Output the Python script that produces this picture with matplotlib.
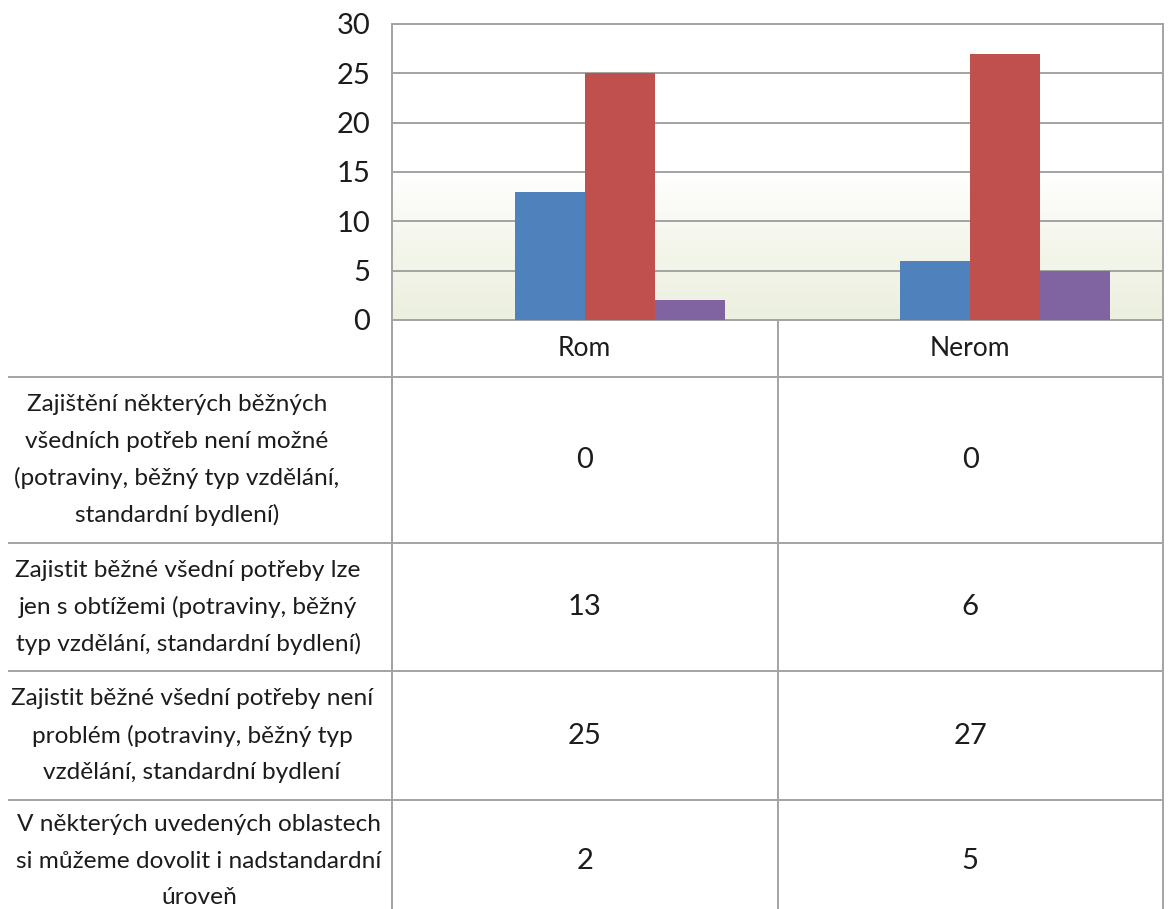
import numpy as np
import matplotlib
matplotlib.use("Agg")
import matplotlib.pyplot as plt
from matplotlib.colors import LinearSegmentedColormap

# ---- data ----
categories = ["Rom", "Nerom"]
series_labels = [
    "Zajištění některých běžných\nvšedních potřeb není možné\n(potraviny, běžný typ vzdělání,\nstandardní bydlení)",
    "Zajistit běžné všední potřeby lze\njen s obtížemi (potraviny, běžný\ntyp vzdělání, standardní bydlení)",
    "Zajistit běžné všední potřeby není\nproblém (potraviny, běžný typ\nvzdělání, standardní bydlení",
    "V některých uvedených oblastech\nsi můžeme dovolit i nadstandardní\núroveň",
]
values_not_possible = [0, 0]
values_with_difficulty = [13, 6]
values_no_problem = [25, 27]
values_above_standard = [2, 5]
series_values = [values_not_possible, values_with_difficulty,
                 values_no_problem, values_above_standard]
series_colors = ["#9BBB59", "#4F81BD", "#C0504D", "#8064A2"]
y_ticks = [0, 5, 10, 15, 20, 25, 30]

# ---- layout (pixels) ----
W, H = 1168, 909
DPI = 100
plot_left, plot_right = 392, 1163
plot_top, plot_bottom = 24, 320
label_left = 8
label_centers_x = [177, 188, 192, 199]
row_edges = [320, 377, 543, 671, 800, 922]
line_step = 36.7
grid_col = "#A3A3A3"
text_col = "#1c1c1c"
FONT = ["Lato", "DejaVu Sans"]
FS_NUM = 21
FS_HDR = 19
FS_LAB = 17.6

plt.rcParams["font.family"] = FONT

fig = plt.figure(figsize=(W / DPI, H / DPI), dpi=DPI)
fig.patch.set_facecolor("white")

ax = fig.add_axes([plot_left / W, 1 - plot_bottom / H,
                   (plot_right - plot_left) / W, (plot_bottom - plot_top) / H])

n_series = len(series_values)
bar_w = 1 / 5.5
x = np.arange(len(categories))
for i, (vals, col) in enumerate(zip(series_values, series_colors)):
    offs = (i - (n_series - 1) / 2) * bar_w
    ax.bar(x + offs, vals, width=bar_w, color=col, linewidth=0, zorder=3)

ax.set_xlim(-0.5, len(categories) - 0.5)
ax.set_ylim(0, 30)
ax.set_yticks(y_ticks)
ax.set_yticklabels([str(t) for t in y_ticks], fontsize=FS_NUM, color=text_col)
ax.set_xticks([])
ax.tick_params(axis="y", length=0, pad=15.8)

# soft green fill in the lower half of the plot area
grad = np.linspace(0, 1, 256).reshape(-1, 1)
cmap = LinearSegmentedColormap.from_list("fill", ["#ECF0DF", "#F4F6EC", "#FFFFFF"])
ax.imshow(grad, extent=[-0.5, len(categories) - 0.5, 0, 15], origin="lower",
          aspect="auto", cmap=cmap, zorder=0)

ax.yaxis.grid(True, color=grid_col, linewidth=1.4, zorder=1)
ax.set_axisbelow(True)
for side in ["left", "right", "bottom", "top"]:
    ax.spines[side].set_color(grid_col)
    ax.spines[side].set_linewidth(1.4)

# ---- data table below the plot ----
ov = fig.add_axes([0, 0, 1, 1], zorder=5)
ov.set_xlim(0, W)
ov.set_ylim(H, 0)
ov.axis("off")
ov.patch.set_alpha(0)

col_edges = [plot_left, (plot_left + plot_right) / 2, plot_right]
lw = 1.4
for xe in col_edges:
    ov.plot([xe, xe], [plot_bottom, row_edges[-1]], color=grid_col, lw=lw,
            solid_capstyle="butt")
for ye in row_edges[1:]:
    ov.plot([label_left, plot_right], [ye, ye], color=grid_col, lw=lw,
            solid_capstyle="butt")

col_centers = [(col_edges[j] + col_edges[j + 1]) / 2 for j in range(len(categories))]
hdr_y = (row_edges[0] + row_edges[1]) / 2
for cx, cat in zip(col_centers, categories):
    ov.text(cx, hdr_y, cat, ha="center", va="center", fontsize=FS_HDR, color=text_col)

for r, (lab, vals) in enumerate(zip(series_labels, series_values)):
    cy = (row_edges[r + 1] + row_edges[r + 2]) / 2
    lines = lab.split("\n")
    n = len(lines)
    for k, ln in enumerate(lines):
        ov.text(label_centers_x[r], cy + (k - (n - 1) / 2) * line_step, ln,
                ha="center", va="center", fontsize=FS_LAB, color=text_col)
    for cx, v in zip(col_centers, vals):
        ov.text(cx, cy, str(v), ha="center", va="center", fontsize=FS_NUM, color=text_col)

fig.savefig("out.png", dpi=DPI, facecolor="white")
